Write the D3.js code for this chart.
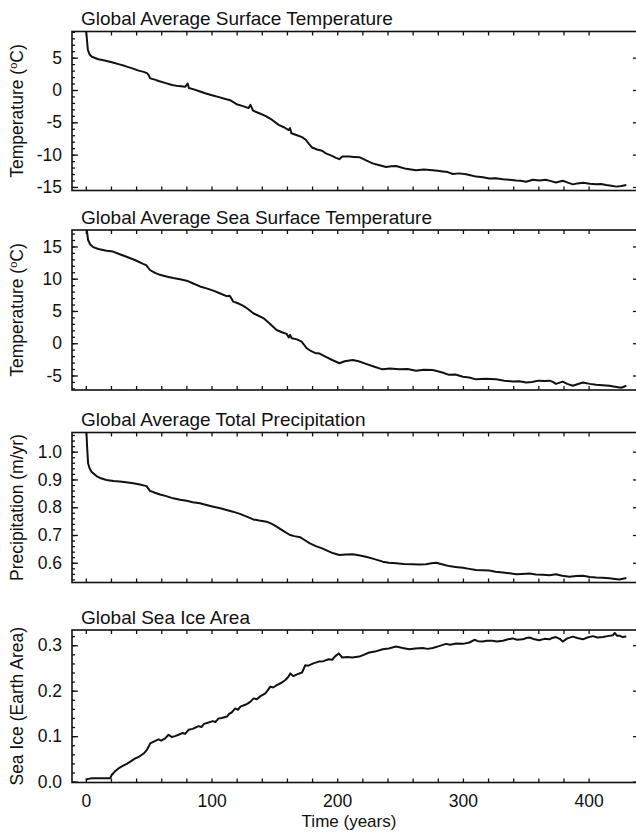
<!DOCTYPE html>
<html>
<head>
<meta charset="utf-8">
<script src="https://cdn.jsdelivr.net/npm/d3@7"></script>
<style>
body { margin: 0; background: #fff; }
svg { display: block; font-family: "Liberation Sans", Arial, Helvetica, sans-serif; }
</style>
</head>
<body>
<svg width="636" height="833"></svg>
<script>
// Values: [year, value]
var surfaceTemp = [[0, 9.8], [0.8, 8.0], [1.6, 6.2], [3, 5.5], [4.8, 5.15], [10, 4.75], [15, 4.55], [20.7, 4.3], [26, 4.0], [31.3, 3.7], [37, 3.35], [42, 3.0], [46, 2.8], [48.6, 2.6], [50, 2.3], [51.2, 1.8], [55, 1.6], [57.9, 1.4], [63, 1.1], [68.5, 0.77], [74, 0.6], [79, 0.5], [81, 1.0], [82, 0.3], [86, 0.1], [89.7, -0.15], [95, -0.5], [100.3, -0.8], [106, -1.1], [111, -1.4], [115, -1.6], [120, -2.2], [125, -2.5], [129.5, -2.8], [131, -2.3], [133, -3.2], [138, -3.6], [142.8, -4.0], [148, -4.6], [153.4, -5.4], [158, -5.8], [161.4, -6.2], [162.5, -5.9], [163.5, -6.7], [168, -7.0], [172, -7.3], [175, -7.7], [177.3, -8.3], [180, -8.9], [184, -9.2], [188, -9.4], [191, -9.8], [195.9, -10.2], [199, -10.5], [201.7, -10.7], [204, -10.3], [209.6, -10.3], [213, -10.35], [217.6, -10.4], [223, -10.9], [228.2, -11.35], [233, -11.6], [238.9, -11.9], [243, -11.8], [246.8, -11.75], [251, -12.0], [254.8, -12.2], [262.7, -12.4], [269, -12.3], [276, -12.4], [280, -12.5], [284, -12.6], [288, -12.7], [292, -13.0], [297, -12.9], [302.5, -13.05], [306, -13.2], [310.5, -13.4], [316, -13.5], [321, -13.7], [326, -13.65], [331.8, -13.8], [337, -13.9], [342.4, -14.0], [346, -14.05], [350.3, -14.2], [355.6, -13.9], [361, -14.0], [366, -13.9], [370, -14.1], [374, -14.3], [379.4, -14.05], [383, -14.3], [387.5, -14.6], [391, -14.45], [395.5, -14.35], [401, -14.5], [406, -14.6], [410, -14.55], [414, -14.7], [418, -14.8], [422, -14.95], [426, -14.85], [430, -14.7]]

var seaSurfaceTemp = [[0, 19], [0.8, 17.5], [1.8, 16.0], [3.5, 15.3], [5.8, 14.9], [10, 14.6], [16.5, 14.35], [21.7, 14.2], [27, 13.8], [32.4, 13.4], [39, 12.9], [45.6, 12.3], [48, 12.1], [51, 11.35], [55, 10.9], [59, 10.6], [64, 10.35], [69.5, 10.1], [75, 9.9], [80.2, 9.7], [85, 9.3], [90.8, 8.8], [96, 8.5], [101.4, 8.15], [107, 7.7], [112, 7.3], [114.5, 7.35], [117.3, 6.45], [121, 6.2], [125.3, 5.8], [129, 5.3], [133.2, 4.65], [137, 4.3], [141.2, 3.9], [146, 3.1], [151.8, 2.05], [156, 1.7], [159.8, 1.45], [161.5, 0.9], [162.5, 1.3], [163.8, 0.78], [168, 0.6], [171.7, 0.25], [173.5, -0.2], [175.7, -0.78], [179, -1.2], [182.3, -1.5], [186, -1.6], [191, -2.1], [196, -2.6], [201.7, -3.1], [206, -2.8], [212.3, -2.6], [217, -2.8], [222.9, -3.2], [229, -3.6], [236, -4.05], [242, -3.9], [249.4, -4.05], [256, -4.0], [262.7, -4.25], [269, -4.1], [276, -4.15], [283, -4.5], [289, -4.9], [294, -4.85], [300, -5.2], [305, -5.3], [310.5, -5.6], [318, -5.5], [326.4, -5.6], [333, -5.8], [339.7, -5.95], [345, -5.9], [350.3, -6.1], [355, -6.0], [360, -5.8], [365, -5.85], [368.9, -5.8], [371.5, -6.0], [374, -6.3], [377, -6.1], [379.4, -5.95], [383, -6.3], [387.5, -6.6], [391, -6.35], [395.5, -6.1], [401, -6.3], [406, -6.45], [411, -6.5], [416.6, -6.6], [421, -6.75], [426, -6.9], [430, -6.6]]

var precipitation = [[0, 1.12], [0.6, 1.06], [1, 1.018], [1.8, 0.958], [3, 0.94], [4.5, 0.928], [8.5, 0.912], [12, 0.904], [16.5, 0.898], [22, 0.894], [27, 0.893], [32, 0.89], [37.7, 0.886], [43, 0.882], [48.3, 0.876], [51, 0.859], [55, 0.852], [59, 0.846], [64, 0.84], [69.5, 0.832], [75, 0.827], [80.2, 0.823], [85, 0.818], [90.8, 0.814], [96, 0.808], [101.4, 0.802], [107, 0.796], [112, 0.79], [117, 0.784], [122.6, 0.776], [128, 0.766], [133.2, 0.756], [138, 0.752], [143.8, 0.748], [148, 0.74], [151.8, 0.73], [157, 0.715], [162.4, 0.70], [166, 0.696], [170.4, 0.692], [174, 0.682], [178.3, 0.67], [183, 0.66], [188, 0.652], [193.7, 0.64], [197, 0.634], [201.7, 0.628], [207, 0.63], [212.3, 0.631], [217, 0.627], [222.9, 0.622], [229, 0.614], [236.2, 0.604], [241, 0.6], [246.8, 0.598], [253, 0.596], [260, 0.595], [265, 0.594], [270.7, 0.595], [275, 0.598], [278.7, 0.60], [284, 0.594], [289, 0.588], [294, 0.585], [300, 0.582], [305, 0.578], [310.5, 0.574], [316, 0.573], [321, 0.572], [326, 0.568], [331.8, 0.565], [337, 0.562], [342.4, 0.559], [347, 0.56], [353, 0.561], [358, 0.558], [363.6, 0.557], [369, 0.555], [374, 0.559], [379, 0.553], [384.8, 0.55], [390, 0.552], [395.5, 0.553], [401, 0.549], [406, 0.547], [411, 0.546], [416.6, 0.544], [421, 0.542], [424.6, 0.54], [430, 0.545]]

var seaIce = [[0, 0.004], [2, 0.006], [4.8, 0.0075], [12, 0.0075], [19.4, 0.0075], [20.7, 0.015], [23, 0.022], [26, 0.029], [29, 0.034], [32.6, 0.039], [36, 0.045], [39.3, 0.051], [42, 0.054], [44.6, 0.059], [46.5, 0.063], [48.6, 0.07], [50, 0.077], [51.2, 0.084], [54, 0.088], [57.9, 0.093], [60, 0.09], [63.1, 0.095], [65.8, 0.103], [68.5, 0.098], [71, 0.1], [73.8, 0.103], [77, 0.107], [79, 0.105], [81.7, 0.114], [85, 0.116], [89.7, 0.122], [92, 0.12], [94, 0.127], [97.7, 0.13], [101, 0.133], [103, 0.131], [105.6, 0.139], [108, 0.14], [112.3, 0.143], [114, 0.149], [116, 0.152], [118.9, 0.161], [121, 0.158], [123, 0.165], [126.8, 0.169], [129, 0.172], [131, 0.176], [133.5, 0.183], [136, 0.181], [139, 0.188], [142.8, 0.194], [144.5, 0.2], [146.8, 0.209], [149, 0.207], [152, 0.212], [156, 0.218], [159, 0.224], [161, 0.23], [162.7, 0.238], [165, 0.232], [168, 0.236], [172, 0.24], [174.6, 0.256], [177, 0.255], [181, 0.26], [185.3, 0.264], [189, 0.265], [193.2, 0.269], [196, 0.268], [198.5, 0.276], [201.2, 0.282], [204, 0.273], [208, 0.274], [212, 0.273], [217.6, 0.275], [222, 0.28], [225.5, 0.284], [230, 0.286], [236.2, 0.291], [241, 0.293], [246.8, 0.297], [252, 0.294], [257.4, 0.291], [262, 0.293], [268, 0.294], [272, 0.292], [276, 0.294], [281, 0.298], [286.6, 0.303], [290, 0.301], [294.6, 0.304], [300, 0.303], [305.2, 0.306], [309.2, 0.312], [312, 0.309], [315.8, 0.308], [319, 0.31], [323.3, 0.31], [327, 0.308], [331.8, 0.31], [336, 0.313], [339.7, 0.315], [343, 0.312], [347.7, 0.313], [350.5, 0.316], [353, 0.317], [357, 0.313], [360.6, 0.311], [365, 0.314], [368.9, 0.313], [371, 0.316], [374, 0.318], [377, 0.314], [379.4, 0.308], [383, 0.315], [387.5, 0.319], [391, 0.316], [395.5, 0.313], [399, 0.317], [403.4, 0.32], [407, 0.317], [411.4, 0.318], [415, 0.32], [419.4, 0.322], [420.8, 0.327], [422.5, 0.321], [424.6, 0.321], [427, 0.318], [430, 0.319]]

// Tick labels
var yearTicks = [0, 100, 200, 300, 400]
var surfaceTicks = [-15, -10, -5, 0, 5]
var seaSurfaceTicks = [-5, 0, 5, 10, 15]
var precipTicks = [0.6, 0.7, 0.8, 0.9, 1.0]
var seaIceTicks = [0.0, 0.1, 0.2, 0.3]

var svg = d3.select("svg"),
	left = 72,
	right = 637

// Shared time axis, the right frame runs just past the window edge
var x = d3.scaleLinear().domain([-11, 438.5]).range([left, right])

var intFmt = function(d) { return String(d) },
	decFmt = function(d) { return d.toFixed(1) }

var panels = [
	{ title: "Global Average Surface Temperature", label: ["Temperature (", "o", "C)"], data: surfaceTemp, ticks: surfaceTicks, minor: 1, domain: [-15.55, 9.05], top: 31.5, bottom: 190.5, fmt: intFmt },
	{ title: "Global Average Sea Surface Temperature", label: ["Temperature (", "o", "C)"], data: seaSurfaceTemp, ticks: seaSurfaceTicks, minor: 1, domain: [-7.25, 17.55], top: 230, bottom: 390, fmt: intFmt },
	{ title: "Global Average Total Precipitation", label: ["Precipitation (m/yr)"], data: precipitation, ticks: precipTicks, minor: 0.02, domain: [0.529, 1.069], top: 432.5, bottom: 582.5, fmt: decFmt },
	{ title: "Global Sea Ice Area", label: ["Sea Ice (Earth Area)"], data: seaIce, ticks: seaIceTicks, minor: 0.02, domain: [-0.002, 0.3335], top: 630, bottom: 782.5, fmt: decFmt, xLabels: true }
]

// minor ticks every 20 years on the time axis
var yearMinor = d3.range(0, 21).map(function(i) { return i * 20 }).filter(function(d) { return d <= 438 })

panels.forEach(function(p, i) {
	var y = d3.scaleLinear().domain(p.domain).range([p.bottom, p.top])
	var g = svg.append("g").attr("class", "panel")

	var lo = Math.ceil(p.domain[0] / p.minor - 1e-6),
		hi = Math.floor(p.domain[1] / p.minor + 1e-6)
	var yMinor = d3.range(lo, hi + 1).map(function(k) { return +(k * p.minor).toFixed(4) })

	g.append("clipPath").attr("id", "clip" + i)
		.append("rect")
		.attr("x", left).attr("y", p.top)
		.attr("width", right - left).attr("height", p.bottom - p.top)

	// left axis: minor then major ticks pointing inward
	g.append("g")
		.attr("transform", "translate(" + left + ",0)")
		.call(d3.axisLeft(y).tickValues(yMinor).tickSize(-3).tickFormat(""))
	g.append("g")
		.attr("class", "yaxis")
		.attr("transform", "translate(" + left + ",0)")
		.call(d3.axisLeft(y).tickValues(p.ticks).tickSize(-6).tickPadding(10).tickFormat(p.fmt))

	// right axis, major ticks only
	g.append("g")
		.attr("transform", "translate(" + right + ",0)")
		.call(d3.axisRight(y).tickValues(p.ticks).tickSize(-4).tickFormat(""))

	// top and bottom time ticks
	g.append("g")
		.attr("transform", "translate(0," + p.top + ")")
		.call(d3.axisTop(x).tickValues(yearMinor).tickSize(-4).tickFormat(""))
	g.append("g")
		.attr("class", "xaxis")
		.attr("transform", "translate(0," + p.bottom + ")")
		.call(d3.axisBottom(x).tickValues(yearMinor).tickSize(-4).tickPadding(12)
			.tickFormat(function(d) { return p.xLabels && yearTicks.indexOf(d) >= 0 ? d : "" }))

	g.selectAll(".domain").remove()
	g.selectAll(".tick line").attr("stroke", "#111").attr("stroke-width", 1.3)
	g.selectAll(".tick text").attr("fill", "#111").style("font-size", "17.5px").style("font-family", "Liberation Sans, Arial, sans-serif")

	// frame
	g.append("rect")
		.attr("x", left).attr("y", p.top)
		.attr("width", right - left).attr("height", p.bottom - p.top)
		.attr("fill", "none").attr("stroke", "#111").attr("stroke-width", 1.6)

	var line = d3.line()
		.x(function(d) { return x(d[0]) })
		.y(function(d) { return y(d[1]) })

	g.append("path")
		.datum(p.data)
		.attr("clip-path", "url(#clip" + i + ")")
		.attr("fill", "none")
		.attr("stroke", "#111")
		.attr("stroke-width", 2)
		.attr("stroke-linejoin", "round")
		.attr("d", line)

	g.append("text")
		.attr("x", 81).attr("y", p.top - 6.5)
		.attr("fill", "#111")
		.style("font-size", "19px")
		.text(p.title)

	var lab = g.append("text")
		.attr("transform", "translate(22.5," + ((p.top + p.bottom) / 2) + ") rotate(-90)")
		.attr("text-anchor", "middle")
		.attr("fill", "#111")
		.style("font-size", "17.5px")
	lab.append("tspan").text(p.label[0])
	if (p.label.length > 1) {
		lab.append("tspan").attr("dy", -6).style("font-size", "11px").text(p.label[1])
		lab.append("tspan").attr("dy", 6).text(p.label[2])
	}
})

svg.append("text")
	.attr("x", 349).attr("y", 827)
	.attr("text-anchor", "middle")
	.attr("fill", "#111")
	.style("font-size", "17px")
	.text("Time (years)")
</script>
</body>
</html>
